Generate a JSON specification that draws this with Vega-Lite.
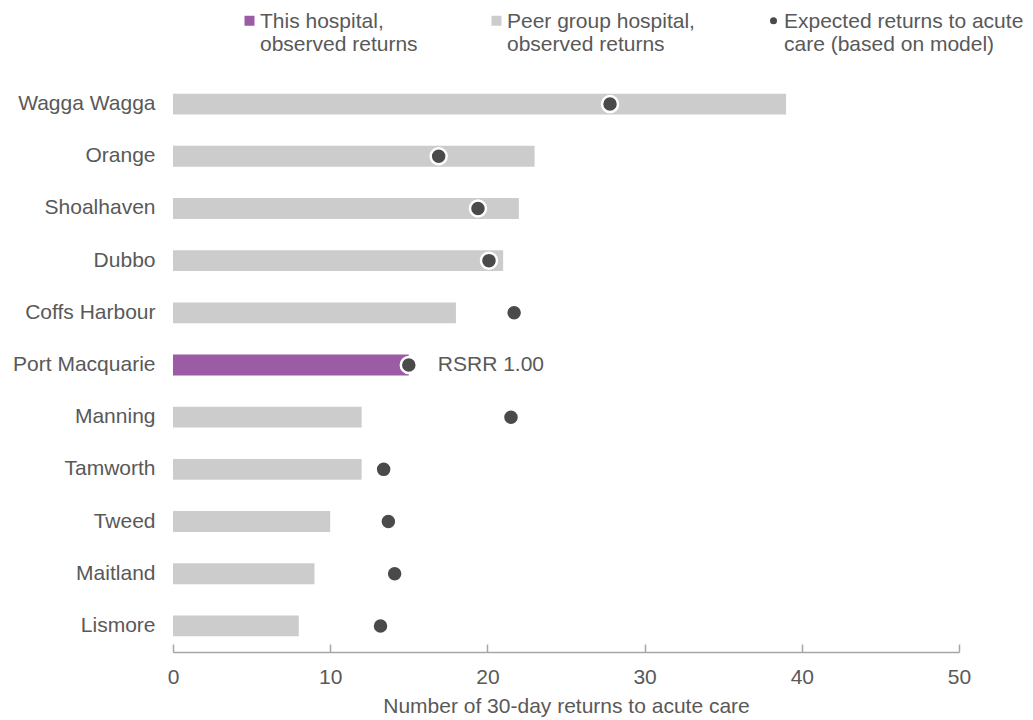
{
  "$schema": "https://vega.github.io/schema/vega-lite/v6.json",
  "width": 786,
  "height": 574,
  "autosize": {"type": "none"},
  "padding": {"left": 173, "top": 78, "right": 74, "bottom": 68},
  "background": "white",
  "config": {
    "font": "Liberation Sans",
    "view": {"stroke": null},
    "axis": {"labelFont": "Liberation Sans", "titleFont": "Liberation Sans", "labelColor": "#595959", "titleColor": "#595959", "grid": false},
    "legend": {"labelFont": "Liberation Sans", "labelColor": "#595959"}
  },
  "data": {
    "values": [
      {"hospital": "Wagga Wagga", "observed": 39, "expected": 27.8, "group": "Peer group hospital, observed returns"},
      {"hospital": "Orange", "observed": 23, "expected": 16.9, "group": "Peer group hospital, observed returns"},
      {"hospital": "Shoalhaven", "observed": 22, "expected": 19.4, "group": "Peer group hospital, observed returns"},
      {"hospital": "Dubbo", "observed": 21, "expected": 20.1, "group": "Peer group hospital, observed returns"},
      {"hospital": "Coffs Harbour", "observed": 18, "expected": 21.7, "group": "Peer group hospital, observed returns"},
      {"hospital": "Port Macquarie", "observed": 15, "expected": 15.0, "group": "This hospital, observed returns", "note": "RSRR 1.00"},
      {"hospital": "Manning", "observed": 12, "expected": 21.5, "group": "Peer group hospital, observed returns"},
      {"hospital": "Tamworth", "observed": 12, "expected": 13.4, "group": "Peer group hospital, observed returns"},
      {"hospital": "Tweed", "observed": 10, "expected": 13.7, "group": "Peer group hospital, observed returns"},
      {"hospital": "Maitland", "observed": 9, "expected": 14.1, "group": "Peer group hospital, observed returns"},
      {"hospital": "Lismore", "observed": 8, "expected": 13.2, "group": "Peer group hospital, observed returns"}
    ]
  },
  "encoding": {
    "y": {
      "field": "hospital",
      "type": "nominal",
      "sort": null,
      "scale": {"paddingInner": 0.6, "paddingOuter": 0.3},
      "axis": {"title": null, "domain": false, "ticks": false, "labelFontSize": 21, "labelPadding": 18, "labelLimit": 300}
    }
  },
  "layer": [
    {
      "mark": {"type": "bar"},
      "encoding": {
        "x": {
          "field": "observed",
          "type": "quantitative",
          "scale": {"domain": [0, 50], "nice": false},
          "axis": {
            "title": "Number of 30-day returns to acute care",
            "titleFontSize": 21,
            "titleFontWeight": "normal",
            "titlePadding": 8,
            "values": [0, 10, 20, 30, 40, 50],
            "labelFontSize": 21,
            "labelFlush": false,
            "domainColor": "#A6A6A6",
            "domainWidth": 1.5,
            "tickColor": "#A6A6A6",
            "tickWidth": 1.5,
            "tickSize": -8,
            "labelPadding": 22,
            "labelBaseline": "top"
          }
        },
        "color": {
          "field": "group",
          "type": "nominal",
          "scale": {
            "domain": ["This hospital, observed returns", "Peer group hospital, observed returns", "Expected returns to acute care (based on model)"],
            "range": ["#9B5BA5", "#CCCCCC", "#4A4A4A"]
          },
          "legend": {
            "title": null,
            "orient": "none",
            "legendX": 66,
            "legendY": -68,
            "direction": "horizontal",
            "columns": 3,
            "columnPadding": 68,
            "labelFontSize": 21,
            "labelLimit": 400,
            "labelOffset": 0,
            "labelBaseline": "alphabetic",
            "symbolStrokeWidth": 0,
            "labelExpr": "datum.label == 'This hospital, observed returns' ? ['This hospital,', 'observed returns'] : datum.label == 'Peer group hospital, observed returns' ? ['Peer group hospital,', 'observed returns'] : ['Expected returns to acute', 'care (based on model)']",
            "encode": {
              "symbols": {
                "update": {
                  "shape": {"signal": "datum.value == 'Expected returns to acute care (based on model)' ? 'circle' : 'square'"},
                  "size": {"signal": "datum.value == 'Expected returns to acute care (based on model)' ? 49 : 100"},
                  "strokeWidth": {"value": 0}
                }
              },
              "labels": {
                "update": {"dy": {"value": 7}}
              }
            }
          }
        }
      }
    },
    {
      "mark": {"type": "point", "filled": true, "size": 256, "stroke": "white", "strokeWidth": 2.5, "opacity": 1},
      "encoding": {
        "x": {"field": "expected", "type": "quantitative"},
        "color": {"datum": "Expected returns to acute care (based on model)", "type": "nominal"}
      }
    },
    {
      "transform": [{"filter": "datum.note != null"}],
      "mark": {"type": "text", "align": "left", "baseline": "middle", "dx": 29, "fontSize": 21, "color": "#595959", "font": "Liberation Sans"},
      "encoding": {
        "x": {"field": "expected", "type": "quantitative"},
        "text": {"field": "note"}
      }
    }
  ]
}
